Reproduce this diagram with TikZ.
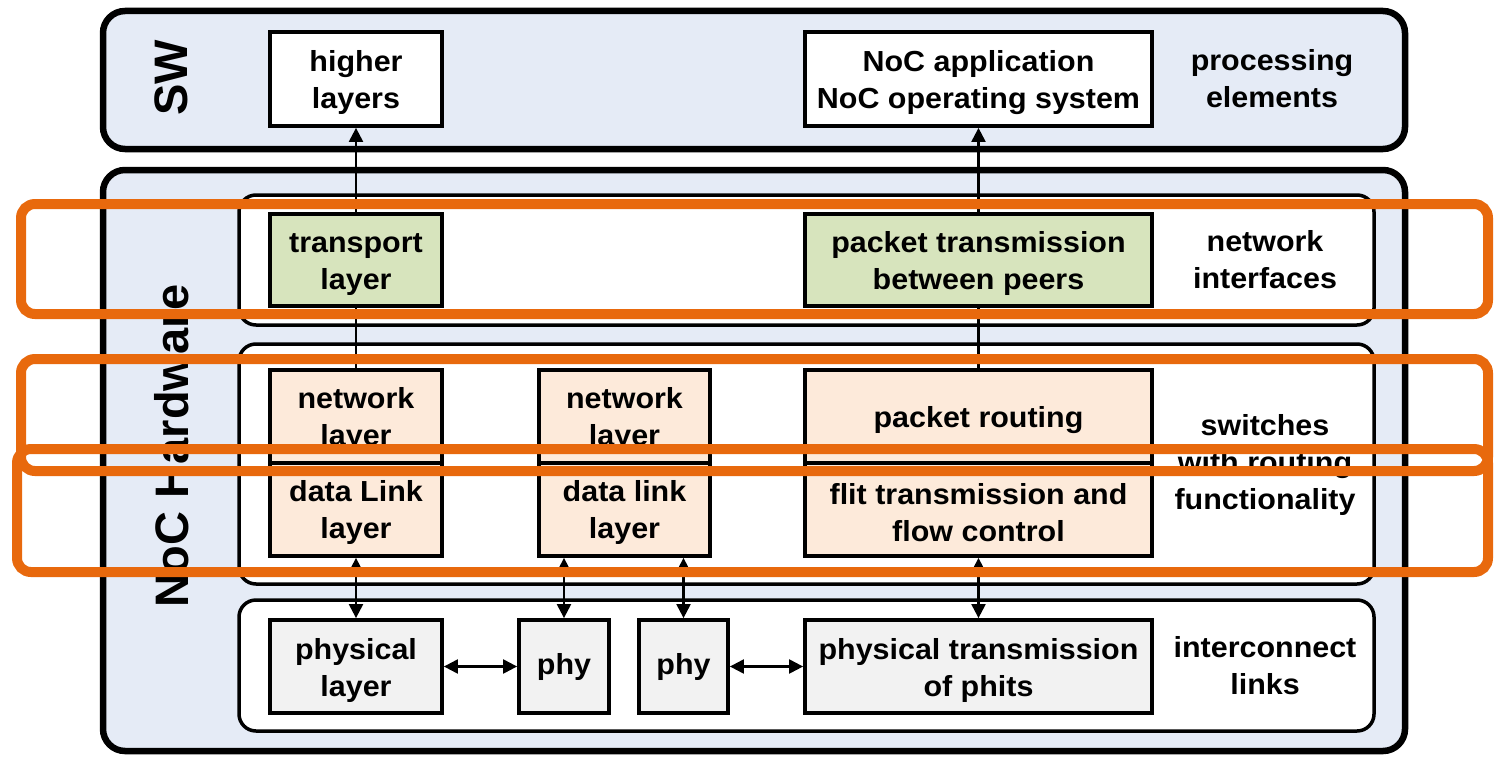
\documentclass[tikz,border=0pt]{standalone}
\usepackage{fontspec}
\setmainfont{Liberation Sans}[FakeStretch=1.05]
\newfontfamily\rotfont{Liberation Sans}
\usetikzlibrary{arrows.meta}
\definecolor{swblue}{HTML}{E5EBF6}
\definecolor{nigreen}{HTML}{D7E4BD}
\definecolor{swbeige}{HTML}{FDEADA}
\definecolor{lkgray}{HTML}{F2F2F2}
\definecolor{hlorange}{HTML}{E8690D}
\newcommand\tstrut{\rule{0pt}{28pt}}
\begin{document}
\begin{tikzpicture}[x=1pt,y=-1pt,
  outerbox/.style={line width=6.5pt, draw=black, fill=swblue, rounded corners=22pt},
  groupbox/.style={line width=3.5pt, draw=black, fill=white, rounded corners=17pt},
  lbl/.style={align=center, inner sep=0pt, font=\fontsize{29}{37}\selectfont\bfseries},
  layerbox/.style={lbl, line width=3.8pt, draw=black, rectangle},
  rotlbl/.style={rotate=90, anchor=base, inner sep=0pt, font=\rotfont\fontsize{47}{50}\selectfont\bfseries},
  conn/.style={line width=2.2pt, draw=black},
  onearrow/.style={conn, -{Triangle[length=14pt,width=14pt]}},
  twoarrow/.style={conn, {Triangle[length=14pt,width=14pt]}-{Triangle[length=14pt,width=14pt]}},
  hl/.style={line width=10pt, draw=hlorange, rounded corners=14pt}
]
\useasboundingbox (0,0) rectangle (1495,757);

% outer frames
\draw[outerbox] (103,11) rectangle (1405,149);
\draw[outerbox] (103,170) rectangle (1405,751);
\node[rotlbl] (sw) at (187,78) {SW};
\node[rotlbl] (hw) at (188,446) {NoC Hardware};

% group frames
\draw[groupbox] (239,195) rectangle (1374,325);
\draw[groupbox] (239,344) rectangle (1374,584);
\draw[groupbox] (239,600) rectangle (1374,731);

% SW row
\node[layerbox, fill=white, minimum width=172pt, minimum height=94pt] (higher) at (356,79) {\tstrut higher\\layers};
\node[layerbox, fill=white, minimum width=347pt, minimum height=94pt] (nocapp) at (978.5,79) {\tstrut NoC application\\NoC operating system};
\node[lbl] (pe) at (1272,79) {processing\\elements};

% network interfaces row
\node[layerbox, fill=nigreen, minimum width=172pt, minimum height=92pt] (transport) at (356,260) {\tstrut transport\\layer};
\node[layerbox, fill=nigreen, minimum width=347pt, minimum height=92pt] (pkttx) at (978.5,260) {\tstrut packet transmission\\between peers};
\node[lbl] (ni) at (1265,260) {network\\interfaces};

% switches row
\node[layerbox, fill=swbeige, minimum width=172pt, minimum height=93pt] (netL) at (356,416.5) {\tstrut network\\layer};
\node[layerbox, fill=swbeige, minimum width=172pt, minimum height=93pt] (dlL) at (356,509.5) {\tstrut data Link\\layer};
\node[layerbox, fill=swbeige, minimum width=171pt, minimum height=93pt] (netM) at (624.5,416.5) {\tstrut network\\layer};
\node[layerbox, fill=swbeige, minimum width=171pt, minimum height=93pt] (dlM) at (624.5,509.5) {\tstrut data link\\layer};
\node[layerbox, fill=swbeige, minimum width=347pt, minimum height=93pt] (route) at (978.5,416.5) {\tstrut packet routing};
\node[layerbox, fill=swbeige, minimum width=347pt, minimum height=93pt] (flit) at (978.5,509.5) {\tstrut flit transmission and\\flow control};
\node[lbl] (swl) at (1265,465) {switches\\with routing\\functionality};

% links row
\node[layerbox, fill=lkgray, minimum width=172pt, minimum height=93pt] (phys) at (356,666.5) {\tstrut physical\\layer};
\node[layerbox, fill=lkgray, minimum width=90pt, minimum height=93pt] (phyA) at (564,666.5) {phy};
\node[layerbox, fill=lkgray, minimum width=89pt, minimum height=93pt] (phyB) at (683.5,666.5) {phy};
\node[layerbox, fill=lkgray, minimum width=347pt, minimum height=93pt] (phystx) at (978.5,666.5) {\tstrut physical transmission\\of phits};
\node[lbl] (il) at (1265,666) {interconnect\\links};

% connectors
\draw[onearrow] (transport.north) -- (higher.south);
\draw[onearrow] (pkttx.north) -- (nocapp.south);
\draw[conn] (transport.south) -- (netL.north);
\draw[conn] (pkttx.south) -- (route.north);
\draw[twoarrow] (dlL.south) -- (phys.north);
\draw[twoarrow] (phyA.north |- dlM.south) -- (phyA.north);
\draw[twoarrow] (phyB.north |- dlM.south) -- (phyB.north);
\draw[twoarrow] (flit.south) -- (phystx.north);
\draw[twoarrow] (phys.east) -- (phyA.west);
\draw[twoarrow] (phyB.east) -- (phystx.west);

% orange highlight frames
\draw[hl] (21,204) rectangle (1488,314);
\draw[hl] (21,359) rectangle (1488,471);
\draw[hl] (17,449) rectangle (1488,572);
\end{tikzpicture}
\end{document}
